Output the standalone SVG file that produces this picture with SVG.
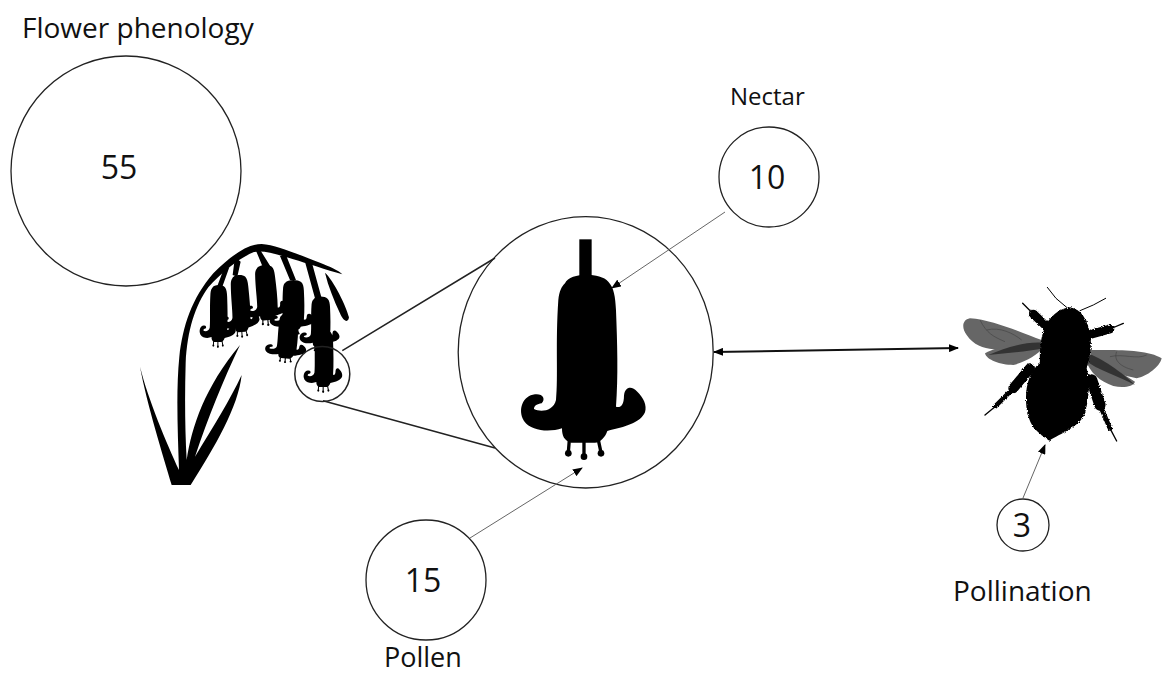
<svg xmlns="http://www.w3.org/2000/svg" xmlns:xlink="http://www.w3.org/1999/xlink" width="1162" height="675" viewBox="0 0 1162 675">
<style>
.ring{fill:#fff;stroke:#222;stroke-width:1.3}
.lens{fill:none;stroke:#222;stroke-width:1.5}
.t{font-family:"Open Sans","Noto Sans",sans-serif;font-size:28px;fill:#111}
.n{font-family:"Open Sans","Noto Sans",sans-serif;font-size:32px;fill:#111;text-anchor:middle}
.thin{stroke:#666;stroke-width:1;fill:none}
.thick{stroke:#111;stroke-width:2;fill:none}
.ink{fill:#000}
.wing{fill:#666}
.vein{fill:none;stroke:#444;stroke-width:2}
.leg{fill:none;stroke:#000;stroke-linecap:round;stroke-linejoin:round}
</style>
<defs>
<marker id="a" markerWidth="10" markerHeight="8" refX="9" refY="4" orient="auto-start-reverse" markerUnits="userSpaceOnUse"><path d="M0 0L10 4L0 8Z" fill="#000"/></marker>
<filter id="fuzz" x="-10%" y="-10%" width="120%" height="120%"><feTurbulence type="fractalNoise" baseFrequency="0.35" numOctaves="2" seed="3"/><feDisplacementMap in="SourceGraphic" scale="9" xChannelSelector="R" yChannelSelector="G"/><feGaussianBlur stdDeviation="0.7"/></filter>
<g id="fl">
<path d="M-65 25C-50 -8 40 -8 65 20C82 38 86 65 88 105C92 205 95 305 88 395C100 400 112 392 112 362C115 335 135 332 152 350C170 368 182 390 175 412C160 445 115 455 62 468C55 488 40 503 25 503L-47 503C-68 497 -74 482 -74 460C-110 472 -165 470 -188 438C-208 405 -192 362 -155 358C-132 355 -122 372 -135 385C-148 387 -158 392 -158 402C-140 412 -100 410 -92 375C-85 305 -94 205 -85 75C-82 48 -75 35 -65 25Z"/>
<path d="M-52 495L-55 532M-8 495L-8 545M35 495L43 532" stroke="#000" stroke-width="10" fill="none"/>
<circle cx="-55" cy="535" r="10"/><circle cx="-8" cy="545" r="10"/><circle cx="43" cy="535" r="10"/>
</g>
</defs>
<rect width="1162" height="675" fill="#fff"/>
<g id="node-phenology">
<circle class="ring" cx="126" cy="171" r="115"/>
<text class="n" x="119" y="179">55</text>
<text class="t" x="22" y="38">Flower phenology</text>
</g>
<g id="node-plant" transform="translate(130 230) scale(.3333)">
<path class="ink" d="M125 765C100 680 50 520 30 410C55 510 110 640 147 720C143 600 138 480 148 380C158 290 185 205 250 130C300 80 350 42 395 42C440 45 500 72 570 98C600 110 625 120 637 133C590 120 530 100 490 88C440 72 400 60 372 66C325 85 275 128 235 172C195 228 172 300 167 400C164 500 165 600 170 690C185 590 225 470 330 345C280 450 235 560 195 680C250 590 300 510 335 435C325 530 255 650 182 765Z"/>
<path class="ink" d="M282 115L298 112L277 170L262 168ZM315 80L332 95L322 140L308 135ZM378 62L392 62L428 120L402 120ZM450 78L468 75L498 150L480 150ZM525 95L545 95L575 205L555 205Z"/>
<path class="ink" d="M585 128C610 150 650 230 657 262C655 280 640 275 630 250C612 210 595 170 585 128Z"/>
<use xlink:href="#fl" href="#fl" transform="translate(266 165) scale(.29 .34)"/>
<use xlink:href="#fl" href="#fl" transform="translate(326 135) rotate(-4) scale(.3 .34)"/>
<use xlink:href="#fl" href="#fl" transform="translate(402 105) rotate(-5) scale(.34 .33)"/>
<use xlink:href="#fl" href="#fl" transform="translate(478 250) rotate(4) scale(.33 .27)"/>
<use xlink:href="#fl" href="#fl" transform="translate(490 150) scale(.36 .3)"/>
<use xlink:href="#fl" href="#fl" transform="translate(572 200) scale(.32 .3)"/>
<use xlink:href="#fl" href="#fl" transform="translate(582 300) scale(.31 .34)"/>
</g>
<g id="node-lens">
<circle class="lens" cx="322.300" cy="374" r="27.500"/>
</g>
<g id="node-flower">
<ellipse class="ring" cx="585.700" cy="352.300" rx="127.500" ry="135.700"/>
<g transform="translate(450 210) scale(.3333)">
<rect x="388" y="88" width="37" height="110"/>
<use xlink:href="#fl" href="#fl" transform="translate(410 195)"/>
</g>
</g>
<g id="node-nectar">
<circle class="ring" cx="769" cy="177" r="50"/>
<text class="n" x="767" y="189">10</text>
<text class="t" x="730" y="105" style="font-size:24px">Nectar</text>
</g>
<g id="node-pollen">
<circle class="ring" cx="426" cy="580" r="60"/>
<text class="n" x="423" y="592">15</text>
<text class="t" x="384" y="667" style="font-size:27px">Pollen</text>
</g>
<g id="node-pollination">
<circle class="ring" cx="1023" cy="525" r="26"/>
<text class="n" x="1022" y="537">3</text>
<text class="t" x="953" y="601">Pollination</text>
</g>
<g id="node-bee" transform="translate(950 270) scale(.3333)">
<path class="wing" d="M275 210C220 190 130 150 60 145C35 150 35 175 50 195C70 225 100 235 130 238L280 240Z"/>
<path class="wing" d="M280 235C220 215 150 225 105 250C110 270 150 285 190 285C230 275 260 255 280 235Z"/>
<path class="wing" d="M415 240C480 240 590 235 635 265C630 290 590 320 560 325L450 300Z"/>
<path class="wing" d="M405 265C440 240 480 290 555 335C550 350 520 355 490 348C450 335 420 310 405 265Z"/>
<path d="M275 218C220 215 160 235 115 255C170 250 230 245 280 235ZM410 250C450 260 520 310 555 345C510 320 440 300 405 270Z" fill="#333"/>
<path class="vein" d="M90 150C110 190 130 200 165 215M110 180C150 170 190 190 215 210M500 245C490 270 510 290 550 300M480 260C520 250 560 270 590 255"/>
<path class="leg" stroke-width="3" d="M350 112L318 85L292 52M390 122L430 105L467 85"/>
<path class="leg" stroke-width="4" d="M250 132L218 100M480 177L520 160M135 410L105 435M480 475L500 513"/>
<g filter="url(#fuzz)">
<path class="ink" d="M360 112C395 118 412 150 420 190C426 220 422 260 410 295C420 330 418 385 405 430C390 470 330 492 298 512C285 505 268 490 252 475C236 450 228 425 228 385C228 345 240 300 270 280C268 240 272 195 290 160C310 130 335 115 360 112Z"/>
<path class="leg" stroke-width="26" d="M290 170L250 132"/>
<path class="leg" stroke-width="26" d="M415 195L480 177"/>
<path class="leg" stroke-width="30" d="M240 295L190 355"/><path class="leg" stroke-width="14" d="M190 355L135 410"/>
<path class="leg" stroke-width="34" d="M425 330L450 405"/><path class="leg" stroke-width="14" d="M450 405L480 475"/>
</g>
</g>
<g id="connectors">
<path class="lens" d="M342.300 350.700L495 258M323 400.700L495 448"/>
<path class="thin" d="M725 212L612 288" marker-end="url(#a)"/>
<path class="thin" d="M470 538L582 468" marker-end="url(#a)"/>
<path class="thin" d="M1023 498L1045 445" marker-end="url(#a)"/>
<path class="thick" d="M714 352L958 348" marker-start="url(#a)" marker-end="url(#a)"/>
</g>
</svg>
